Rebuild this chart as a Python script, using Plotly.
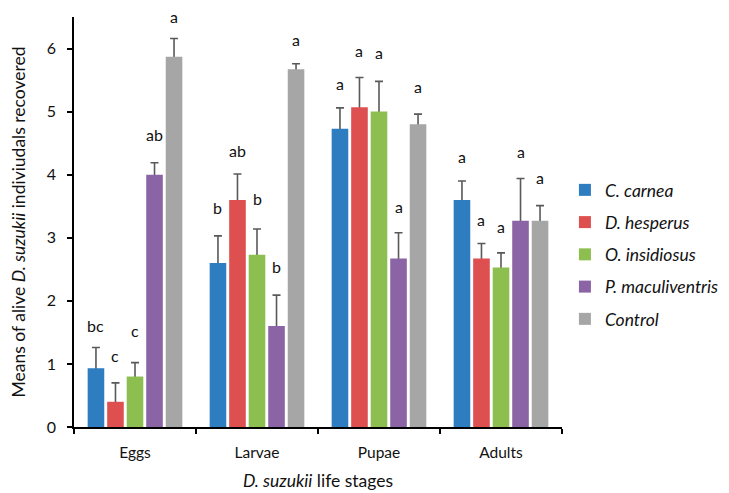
import plotly.graph_objects as go

stages = ["Eggs", "Larvae", "Pupae", "Adults"]
series = ["C. carnea", "D. hesperus", "O. insidiosus", "P. maculiventris", "Control"]

means = {
    "C. carnea":        [0.93, 2.60, 4.73, 3.60],
    "D. hesperus":      [0.40, 3.60, 5.07, 2.67],
    "O. insidiosus":    [0.80, 2.73, 5.00, 2.53],
    "P. maculiventris": [4.00, 1.60, 2.67, 3.27],
    "Control":          [5.87, 5.67, 4.80, 3.27],
}
errors = {
    "C. carnea":        [0.33, 0.43, 0.33, 0.30],
    "D. hesperus":      [0.30, 0.41, 0.47, 0.24],
    "O. insidiosus":    [0.22, 0.41, 0.48, 0.23],
    "P. maculiventris": [0.19, 0.49, 0.41, 0.67],
    "Control":          [0.29, 0.09, 0.16, 0.24],
}
letters = {
    "C. carnea":        ["bc", "b", "a", "a"],
    "D. hesperus":      ["c", "ab", "a", "a"],
    "O. insidiosus":    ["c", "b", "a", "a"],
    "P. maculiventris": ["ab", "b", "a", "a"],
    "Control":          ["a", "a", "a", "a"],
}

colors = ["#2E7DC0", "#DE4F4F", "#8DBE50", "#8B64A6", "#A6A6A6"]
# pixel offsets of the letters above each error bar (styling)
label_shift = {
    "C. carnea":        [22, 28, 24.5, 24.5],
    "D. hesperus":      [27.5, 24, 27.5, 23.5],
    "O. insidiosus":    [32.5, 30, 28.5, 26.5],
    "P. maculiventris": [28, 29, 26.5, 26.5],
    "Control":          [21.5, 24.5, 27.5, 28.5],
}

FONT = "Lato"
W, H = 721, 485
ML, MR, MT, MB = 66, 167, 9, 66
BARGAP = 0.2

fig = go.Figure()

# error-bar carriers (drawn first, so the real bars hide their lower part)
for s in series:
    fig.add_trace(go.Bar(
        x=stages, y=means[s], offsetgroup=s, showlegend=False,
        marker=dict(color="rgba(0,0,0,0)", line=dict(width=0)),
        error_y=dict(type="data", symmetric=False, array=errors[s],
                     arrayminus=means[s], color="#595959", thickness=1.6, width=4),
        hoverinfo="skip",
    ))

for s, c in zip(series, colors):
    fig.add_trace(go.Bar(
        x=stages, y=means[s], name="<i>" + s + "</i>", offsetgroup=s, legendgroup=s,
        marker=dict(color=c, line=dict(width=0)),
    ))

plot_w = W - ML - MR
slot = plot_w / len(stages) * (1 - BARGAP) / len(series)
for k, s in enumerate(series):
    for i, st in enumerate(stages):
        fig.add_annotation(
            x=st, y=means[s][i] + errors[s][i], xref="x", yref="y",
            text=letters[s][i], showarrow=False,
            xshift=(k - (len(series) - 1) / 2) * slot,
            yshift=label_shift[s][i], yanchor="middle",
            font=dict(family=FONT, size=16, color="#111111"),
        )

fig.update_layout(
    width=W, height=H,
    margin=dict(l=ML, r=MR, t=MT, b=MB, autoexpand=False),
    plot_bgcolor="white", paper_bgcolor="white",
    barmode="group", bargap=BARGAP, bargroupgap=0.15,
    font=dict(family=FONT, size=15, color="#111111"),
    showlegend=True,
    legend=dict(x=1.006, xanchor="left", y=0.622, yanchor="top",
                font=dict(family=FONT, size=17.5, color="#111111"),
                tracegroupgap=6.5, itemwidth=30, bgcolor="rgba(0,0,0,0)"),
    xaxis=dict(showline=True, linecolor="#000", linewidth=1.5, automargin=False,
               ticks="outside", ticklen=5, tickcolor="#000", tickwidth=1.5,
               tickson="boundaries", showgrid=False, zeroline=False,
               ticklabelstandoff=11,
               tickfont=dict(family=FONT, size=15.5),
               title=dict(text="<i>D. suzukii</i> life stages", standoff=14,
                          font=dict(family=FONT, size=17.5))),
    yaxis=dict(range=[0, 6.5], dtick=1, tick0=0, showline=True, linecolor="#000",
               linewidth=1.5, ticks="outside", ticklen=5, tickcolor="#000",
               tickwidth=1.5, showgrid=False, zeroline=False, automargin=False,
               ticklabelstandoff=8,
               tickfont=dict(family=FONT, size=16),
               title=dict(text="Means of alive <i>D. suzukii</i> indiviudals recovered",
                          standoff=17, font=dict(family=FONT, size=17.5))),
)

fig.write_html("out.html")
